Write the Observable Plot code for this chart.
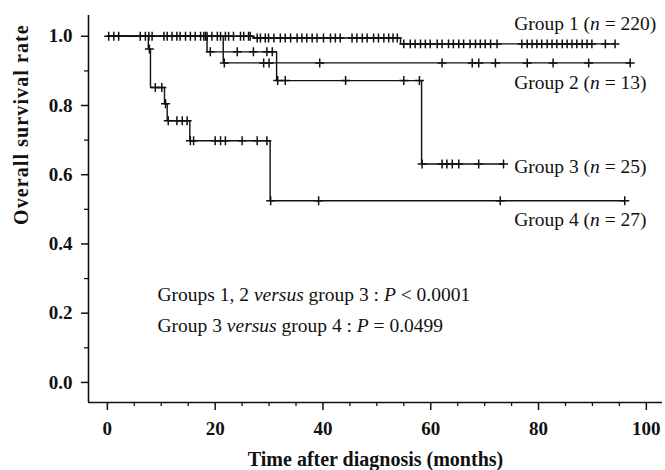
<!DOCTYPE html>
<html><head><meta charset="utf-8">
<script src="https://cdn.jsdelivr.net/npm/d3@7"></script>
<script src="https://cdn.jsdelivr.net/npm/@observablehq/plot@0.6"></script>
<style>body{margin:0;background:#fff}#chart svg{display:block}</style>
</head><body><div id="chart"></div>
<script>
// ---- data ----
const groups = ["Group 1", "Group 2", "Group 3", "Group 4"];
const groupLabels = ["Group 1 (n = 220)", "Group 2 (n = 13)", "Group 3 (n = 25)", "Group 4 (n = 27)"];

const g1Times = [0, 27, 54.4, 94.2];
const g1Surv  = [1, 0.995, 0.978, 0.978];
const g1Censor = [0.25,1.2,2.1,6.1,7.05,7.7,8.3,10.5,11.1,12.0,12.9,13.5,14.5,15.4,16.3,17.3,17.9,18.5,19.4,20.4,21,21.9,22.5,23.4,24.7,25.3,26.2,26.5,27.8,28.4,29.3,29.9,30.9,32.1,33,34,35.2,36.1,37,38,38.9,40.1,41.4,42.3,43.2,45.4,46.3,47.3,48.2,49.4,50.3,51.3,52.2,53,53.8,55,56.2,57.1,58.1,59,59.9,61.2,62.1,63.3,64.2,65.2,66.1,67.3,68.3,69.2,70.1,71.1,72.3,76.9,77.9,78.8,79.7,80.6,81.6,82.5,83.4,84.4,85.3,86.2,87.1,88.1,89,89.9,92.4,94.2];

const g2Times = [0, 21.5, 97];
const g2Surv  = [1, 0.923, 0.923];
const g2Censor = [21.7, 29.0, 30.0, 39.4, 62.1, 67.7, 68.9, 72, 77.9, 82.7, 89.3, 97];

const g3Times = [0, 18.5, 31.4, 58.3, 73.5];
const g3Surv  = [1, 0.955, 0.872, 0.631, 0.631];
const g3Censor = [18.2, 19.1, 24.1, 27.1, 29.6, 30.6, 31.6, 33, 44.2, 55, 57.9, 58.4, 62.1, 63, 64, 65.2, 68.9, 73.5];

const g4Times = [0, 7.6, 8.0, 10.6, 11.1, 15.3, 30.2, 96];
const g4Surv  = [1, 0.963, 0.852, 0.805, 0.756, 0.698, 0.525, 0.525];
const g4Censor = [7.8, 8.9, 10.1, 10.8, 11.3, 12.9, 13.9, 14.8, 15.4, 16.0, 20, 21, 21.9, 25, 27.8, 29.6, 30.3, 39.2, 72.9, 96];

const xTicks = [0, 20, 40, 60, 80, 100];
const xMinor = [5, 10, 15, 25, 30, 35, 45, 50, 55, 65, 70, 75, 85, 90, 95];
const yTicks = [0, 0.2, 0.4, 0.6, 0.8, 1.0];
const yMinor = [0.1, 0.3, 0.5, 0.7, 0.9];
const annotations = ["Groups 1, 2 versus group 3 : P < 0.0001", "Group 3 versus group 4 : P = 0.0499"];
const xTitle = "Time after diagnosis (months)";
const yTitle = "Overall survival rate";

// ---- build tables ----
const series = [
  [g1Times, g1Surv, g1Censor],
  [g2Times, g2Surv, g2Censor],
  [g3Times, g3Surv, g3Censor],
  [g4Times, g4Surv, g4Censor]
];
function survAt(times, surv, t) {
  let v = surv[0];
  for (let i = 0; i < times.length; i++) if (times[i] <= t) v = surv[i];
  return v;
}
const steps = [], censors = [];
series.forEach(([T, S, C], gi) => {
  T.forEach((t, i) => steps.push({group: groups[gi], t, s: S[i]}));
  C.forEach(t => censors.push({group: groups[gi], t, s: survAt(T, S, t)}));
});

const xDomain = [-3.5, 103];
const yDomain = [-0.058, 1.06];
const ink = "#111";

const chart = Plot.plot({
  width: 665, height: 470,
  marginLeft: 88, marginRight: 3, marginTop: 15, marginBottom: 68,
  x: {domain: xDomain},
  y: {domain: yDomain},
  style: {fontFamily: "'Liberation Serif', 'Times New Roman', serif", fontSize: "19px", color: ink, background: "#fff"},
  marks: [
    Plot.ruleY([yDomain[0]], {stroke: ink, strokeWidth: 1.6}),
    Plot.ruleX([xDomain[0]], {stroke: ink, strokeWidth: 1.6}),
    Plot.axisX(xTicks, {tickSize: 8, tickPadding: 11, fontWeight: "bold", fontSize: 19, label: null, strokeWidth: 1.5}),
    Plot.axisX(xMinor, {tickSize: 4, tickFormat: () => "", label: null, strokeWidth: 1.3}),
    Plot.axisY(yTicks, {tickSize: 7, tickPadding: 9, tickFormat: d3.format(".1f"), fontWeight: "bold", fontSize: 19, label: null, strokeWidth: 1.5}),
    Plot.axisY(yMinor, {tickSize: 4, tickFormat: () => "", label: null, strokeWidth: 1.3}),
    Plot.line(steps, {x: "t", y: "s", z: "group", curve: "step-after", stroke: ink, strokeWidth: 1.4}),
    Plot.dot(censors, {x: "t", y: "s", symbol: "plus", r: 3, fill: "none", stroke: ink, strokeWidth: 1.5}),
    Plot.text(groupLabels, {x: () => 75.5, y: (d, i) => [1.019, 0.849, 0.606, 0.453][i], text: d => d, textAnchor: "start", lineAnchor: "bottom", fontSize: 19.5}),
    Plot.text(annotations, {x: () => 9.3, y: (d, i) => [0.235, 0.145][i], text: d => d, textAnchor: "start", lineAnchor: "bottom", fontSize: 19.5}),
    Plot.text([xTitle], {frameAnchor: "bottom", dy: 63, lineAnchor: "bottom", text: d => d, fontWeight: "bold", fontSize: 20}),
    Plot.text([yTitle], {frameAnchor: "left", dx: -61, dy: 16, rotate: -90, lineAnchor: "bottom", text: d => d, fontWeight: "bold", fontSize: 20})
  ]
});

// italics for n, versus and P
const NS = "http://www.w3.org/2000/svg";
chart.querySelectorAll("text").forEach(t => {
  const s = t.textContent;
  if (s === yTitle) { t.setAttribute("letter-spacing", "1.1"); return; }
  if (!(s.includes("versus") || s.includes("(n ="))) return;
  while (t.firstChild) t.removeChild(t.firstChild);
  s.split(/(versus|\bP\b|\bn\b)/).forEach(part => {
    if (!part) return;
    const ts = document.createElementNS(NS, "tspan");
    if (/^(versus|P|n)$/.test(part)) ts.setAttribute("font-style", "italic");
    ts.textContent = part;
    t.appendChild(ts);
  });
});
document.getElementById("chart").appendChild(chart);
</script>
</body></html>
